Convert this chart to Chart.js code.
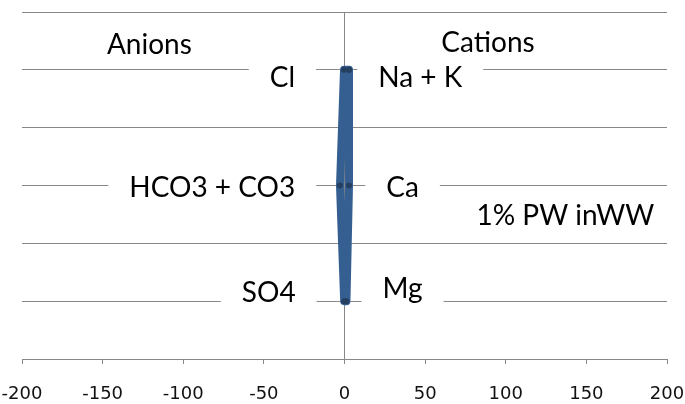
<!DOCTYPE html>
<html>
<head>
<meta charset="utf-8">
<script src="https://cdn.jsdelivr.net/npm/chart.js@4"></script>
<style>
  html, body { margin: 0; padding: 0; background: #fff; }
  canvas { display: block; }
</style>
</head>
<body>
<canvas id="stiffCanvas" width="685" height="404"></canvas>
<script>
// meq/L, left side anions (negative), right side cations
var levels = [5, 3, 1];
var cationNames = ['Na + K', 'Ca', 'Mg'];
var cationValues = [2.8, 2.8, 1.2];
var anionNames = ['Cl', 'HCO3 + CO3', 'SO4'];
var anionValues = [-0.3, -2.8, -0.2];
var xTicks = [-200, -150, -100, -50, 0, 50, 100, 150, 200];

// text boxes, placed in axis units (x, baseline y)
var tags = [
    { text: 'Anions', x: -121, y: 5.28 },
    { text: 'Cations', x: 89, y: 5.30 },
    { text: anionNames[0], x: -38.5, y: 4.70 },
    { text: cationNames[0], x: 47, y: 4.70 },
    { text: anionNames[1], x: -82, y: 2.80 },
    { text: cationNames[1], x: 36, y: 2.80 },
    { text: '1% PW inWW', x: 137, y: 2.31 },
    { text: anionNames[2], x: -47, y: 0.98 },
    { text: cationNames[2], x: 36, y: 1.05 }
];

// closed outline: cations top to bottom, then anions bottom to top
var outline = [];
for (var i = 0; i < levels.length; i++) {
    outline.push({ x: cationValues[i], y: levels[i] });
}
for (var j = levels.length - 1; j >= 0; j--) {
    outline.push({ x: anionValues[j], y: levels[j] });
}
outline.push({ x: cationValues[0], y: levels[0] });

const tagPlugin = {
    id: 'tagBoxes',
    beforeDatasetsDraw(chart) {
        const ctx = chart.ctx;
        const xs = chart.scales.x, ys = chart.scales.y;
        ctx.save();
        ctx.font = '28px Lato';
        ctx.textAlign = 'center';
        ctx.textBaseline = 'alphabetic';
        tags.forEach(function (t) {
            const px = xs.getPixelForValue(t.x);
            const py = ys.getPixelForValue(t.y);
            const w = ctx.measureText(t.text).width;
            ctx.fillStyle = '#fff';
            ctx.fillRect(px - w / 2 - 21, py - 30, w + 42, 40);
            ctx.fillStyle = '#000';
            ctx.fillText(t.text, px, py);
        });
        ctx.restore();
    }
};

const ctx0 = document.getElementById('stiffCanvas');

var stiffChart = new Chart(ctx0, {
    type: 'scatter',
    data: {
        datasets: [{
            data: outline,
            showLine: true,
            borderColor: '#365f91',
            borderWidth: 8,
            borderJoinStyle: 'round',
            borderCapStyle: 'round',
            pointRadius: 3,
            pointBackgroundColor: '#243f60',
            pointBorderWidth: 0
        }, {
            data: outline,
            showLine: true,
            borderColor: '#4f81bd',
            borderWidth: 3,
            borderJoinStyle: 'round',
            pointRadius: 0
        }]
    },
    plugins: [tagPlugin],
    options: {
        responsive: false,
        animation: false,
        layout: { padding: { left: 22, right: 18, top: 12, bottom: 0 } },
        plugins: {
            legend: { display: false },
            tooltip: { enabled: false }
        },
        scales: {
            x: {
                type: 'linear',
                min: -200,
                max: 200,
                afterBuildTicks(scale) {
                    scale.ticks = xTicks.map(function (v) { return { value: v }; });
                },
                afterFit(scale) {
                    scale.height = 45;
                    // edge labels fit inside the layout padding already
                    scale.paddingLeft = 0;
                    scale.paddingRight = 0;
                },
                grid: {
                    drawOnChartArea: false,
                    drawTicks: true,
                    tickLength: 5,
                    color: '#888'
                },
                border: { color: '#888', width: 1 },
                ticks: {
                    padding: 20,
                    color: '#111',
                    font: { family: 'DejaVu Sans', size: 18 }
                }
            },
            y: {
                type: 'linear',
                min: 0,
                max: 6,
                position: { x: 0 },
                ticks: { display: false, stepSize: 1 },
                grid: { color: '#888', drawTicks: false },
                border: { color: '#888', width: 1 }
            }
        }
    }
});
</script>
</body>
</html>
